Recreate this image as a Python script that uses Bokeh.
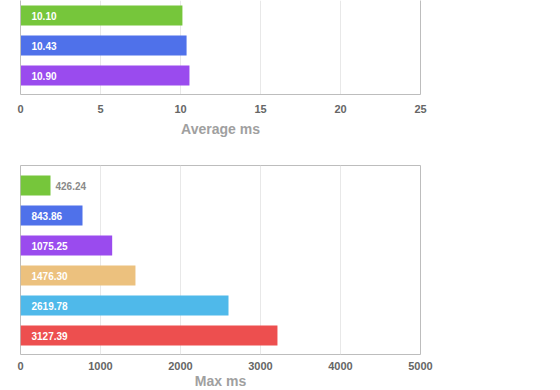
from bokeh.plotting import figure
from bokeh.layouts import column
from bokeh.models import Range1d, FixedTicker, LinearAxis, ColumnDataSource
from bokeh.core.properties import value
from bokeh.embed import file_html
from bokeh.resources import INLINE

# ---- data ----
avg_labels = ["10.10", "10.43", "10.90"]
avg_values = [10.12, 10.38, 10.56]
avg_colors = ["#76c63b", "#4f71ea", "#9a4bee"]
avg_ticks = [0, 5, 10, 15, 20, 25]

max_labels = ["426.24", "843.86", "1075.25", "1476.30", "2619.78", "3127.39"]
max_values = [375, 775, 1146, 1437, 2600, 3212]
max_colors = ["#76c63b", "#4f71ea", "#9a4bee", "#ecc17e", "#4fb9ea", "#ed4f4f"]
max_ticks = [0, 1000, 2000, 3000, 4000, 5000]

FONT = "Liberation Sans"
FRAME_W = 400
SPACING = 30.0  # px per category


def label_source(values, labels, xmax):
    xs, offs, cols = [], [], []
    for v, lab in zip(values, labels):
        bar_px = v / xmax * FRAME_W
        lab_px = len(lab) * 5.6
        if bar_px > lab_px + 20:
            xs.append(0); offs.append(11); cols.append("#ffffff")
        else:
            xs.append(v); offs.append(5); cols.append("#8a8a8a")
    return ColumnDataSource(dict(x=xs, y=list(range(len(values))), text=labels,
                                 off=offs, col=cols))


def style_xaxis(p, ticks, title, tick_standoff, title_standoff):
    ax = p.xaxis[0]
    ax.ticker = FixedTicker(ticks=ticks)
    ax.major_tick_line_color = None
    ax.minor_tick_line_color = None
    ax.major_tick_out = 0
    ax.major_label_standoff = tick_standoff
    ax.major_label_text_font = FONT
    ax.major_label_text_font_style = "bold"
    ax.major_label_text_font_size = "11px"
    ax.major_label_text_color = "#666666"
    ax.axis_label = title
    ax.axis_label_text_font = FONT
    ax.axis_label_text_font_style = "bold"
    ax.axis_label_text_font_size = "14px"
    ax.axis_label_text_color = "#a0a0a0"
    ax.axis_label_standoff = title_standoff


def make(values, labels, colors, ticks, title, y_start, y_end, frame_h,
         top, bottom, outline, tick_standoff, title_standoff):
    xmax = ticks[-1]
    p = figure(frame_width=FRAME_W, frame_height=frame_h,
               x_range=Range1d(0, xmax), y_range=Range1d(y_start, y_end),
               output_backend="svg", toolbar_location=None,
               min_border_left=20, min_border_right=20,
               min_border_top=top, min_border_bottom=bottom)
    p.background_fill_color = "#ffffff"
    p.border_fill_color = "#ffffff"
    ys = list(range(len(values)))
    p.hbar(y=ys, left=0, right=values, height=20 / SPACING, fill_color=colors,
           line_color=None)
    src = label_source(values, labels, xmax)
    p.text(x="x", y="y", text="text", x_offset="off", text_color="col",
           text_font=value(FONT), text_font_style="bold", text_font_size="10px",
           text_baseline="middle", text_align="left", source=src)
    p.xgrid.grid_line_color = "#e8e8e8"
    p.xgrid.ticker = FixedTicker(ticks=ticks)
    p.ygrid.grid_line_color = None
    style_xaxis(p, ticks, title, tick_standoff, title_standoff)
    if outline:
        p.outline_line_color = "#bdbdbd"
        p.outline_line_width = 1
        p.xaxis.axis_line_color = None
        p.yaxis.visible = False
    else:
        p.outline_line_color = None
        p.xaxis.axis_line_color = "#bdbdbd"
        yl = p.yaxis[0]
        yr = LinearAxis()
        p.add_layout(yr, "right")
        for ax in (yl, yr):
            ax.ticker = FixedTicker(ticks=[])
            ax.major_tick_line_color = None
            ax.minor_tick_line_color = None
            ax.major_label_text_font_size = "0px"
            ax.major_label_standoff = 0
            ax.axis_line_color = "#bdbdbd"
    return p


n_avg = len(avg_values)
p1 = make(avg_values, avg_labels, avg_colors, avg_ticks, "Average ms",
          (n_avg - 1) + 19 / SPACING, -15 / SPACING, 94, 0, 56, False, 10, 5)
n_max = len(max_values)
p2 = make(max_values, max_labels, max_colors, max_ticks, "Max ms",
          (n_max - 1) + 19 / SPACING, -20 / SPACING, 189, 15, 30, True, 7, 0)

layout = column(p1, p2, spacing=0)
open("out.html", "w").write(file_html(layout, INLINE))
